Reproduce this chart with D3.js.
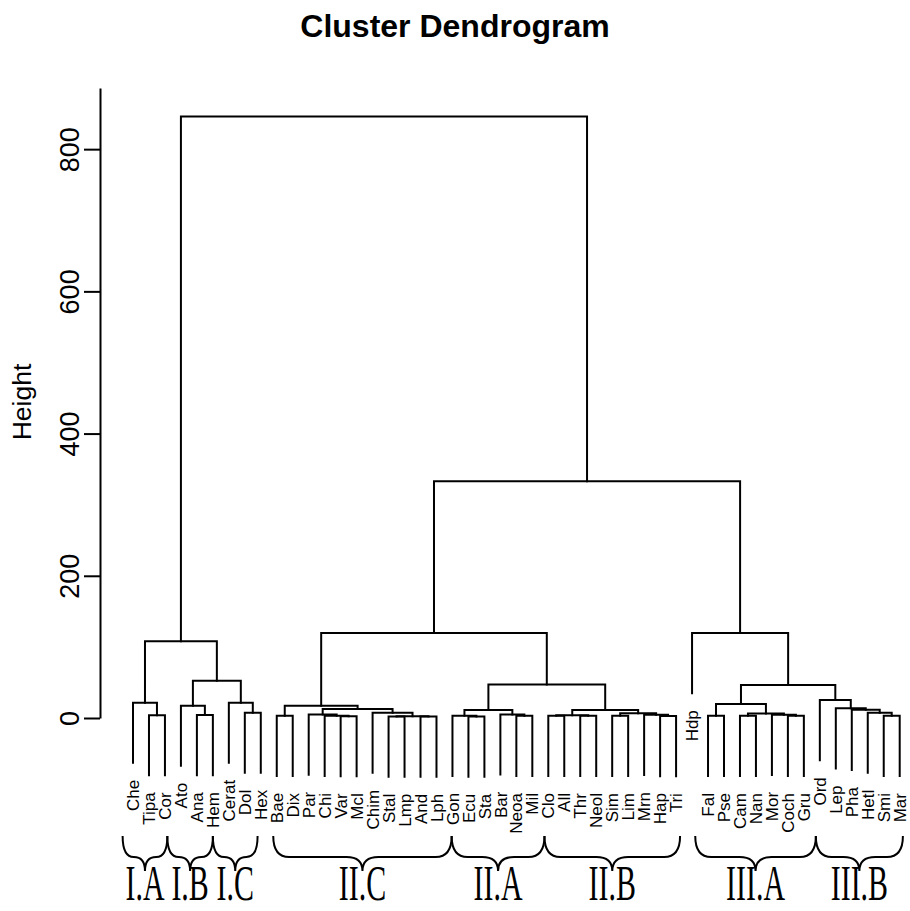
<!DOCTYPE html>
<html><head><meta charset="utf-8">
<script src="https://cdn.jsdelivr.net/npm/d3@7"></script>
<style>body{margin:0;background:#fff}</style>
</head><body>
<svg id="c" width="910" height="911"></svg>
<script>
const leaves = ["Che","Tipa","Cor","Ato","Ana","Hem","Cerat","Dol","Hex","Bae","Dix","Par","Chi","Var","Mcl","Chim","Stal","Lmp","And","Lph","Gon","Ecu","Sta","Bar","Neoa","Mil","Clo","All","Thr","Neol","Sim","Lim","Mrn","Hap","Tri","Hdp","Fal","Pse","Cam","Nan","Mor","Coch","Gru","Ord","Lep","Pha","Hetl","Smi","Mar"];
// merges (R hclust style): strings = leaf labels, numbers = index of an earlier merge
const mergeLeft  = ["Tipa","Che","Ana","Ato","Dol","Cerat",3,1,
                    "Bae","Var","Chi","Par","Stal","And",12,"Chim",11,8,
                    "Ecu","Gon","Neoa","Bar",19,
                    "Clo","Thr",23,"Sim","Hap","Mrn",26,25,22,17,
                    "Fal","Cam","Coch","Mor",34,33,"Smi","Hetl","Pha","Lep","Ord",38,"Hdp",32,7];
const mergeRight = ["Cor",0,"Hem",2,"Hex",4,5,6,
                    "Dix","Mcl",9,10,"Lmp","Lph",13,14,15,16,
                    "Sta",18,"Mil",20,21,
                    "All","Neol",24,"Lim","Tri",27,28,29,30,31,
                    "Pse","Nan","Gru",35,36,37,"Mar",39,40,41,42,43,44,45,46];
const mergeHeight = [4,21.5,4.2,17.3,7.5,21.5,52.4,108,
                     3.2,2.6,3.2,4.8,2.0,2.0,2.3,7.5,12.7,17.3,
                     2.0,3.2,3.0,5.0,11.2,
                     3.0,3.0,4.0,3.0,2.8,4.5,6.6,11.2,47,119.5,
                     3.0,3.0,3.0,4.5,6.5,19.7,3.0,7.5,11.5,13.6,25.3,46.4,119.5,333,846];
const yTicks = [0,200,400,600,800];
const groupNames = ["I.A","I.B","I.C","II.C","II.A","II.B","III.A","III.B"];
const groupStart = [-0.65,2.15,5.0,8.78,19.95,25.76,35.2,42.75];
const groupEnd   = [2.15,5.0,7.8,19.95,25.76,34.25,42.75,48.2];

const svg = d3.select("#c");
const font = "'Liberation Sans', Arial, Helvetica, sans-serif";

const x = d3.scalePoint().domain(leaves).range([133, 899.7]);
const xi = d3.scaleLinear().domain([0, leaves.length-1]).range([133, 899.7]);
const y = d3.scaleLinear().domain([0, 886]).range([718, 88]);
const hang = 0.1 * d3.max(mergeHeight);

// build tree
const leafNodes = new Map(leaves.map(l => [l, {name:l, leaf:true, x:x(l)}]));
const merged = [];
mergeLeft.forEach((a, i) => {
  const get = v => typeof v === "number" ? merged[v] : leafNodes.get(v);
  const L = get(a), R = get(mergeRight[i]);
  const node = {children:[L, R], h: mergeHeight[i], x:(L.x + R.x)/2};
  L.parentH = node.h; R.parentH = node.h;
  merged.push(node);
});
const root = d3.hierarchy(merged[merged.length-1]);

const g = svg.append("g");
const bottomOf = c => c.leaf ? y(c.parentH - hang) : y(c.h);
root.descendants().filter(d => d.children).forEach(d => {
  const n = d.data, [L, R] = n.children;
  g.append("path")
    .attr("d", `M${L.x},${bottomOf(L)}V${y(n.h)}H${R.x}V${bottomOf(R)}`)
    .attr("fill","none").attr("stroke","#000").attr("stroke-width",2)
    .attr("stroke-linecap","square");
});

// leaf labels
root.leaves().forEach(d => {
  const n = d.data;
  g.append("text")
    .attr("transform", `translate(${n.x},${y(n.parentH - hang) + 17}) rotate(-90)`)
    .attr("text-anchor","end").attr("dy","0.36em")
    .attr("font-family", font).attr("font-size", 17)
    .text(n.name);
});

// y axis
const ax = svg.append("g").attr("transform","translate(100,0)")
  .call(d3.axisLeft(y).tickValues(yTicks).tickSize(16).tickSizeOuter(0));
ax.select(".domain").attr("stroke-width",2);
ax.selectAll(".tick line").attr("stroke-width",2);
ax.selectAll(".tick text")
  .attr("x",0).attr("dy",0)
  .attr("transform","translate(-21,0) rotate(-90)")
  .attr("text-anchor","middle")
  .attr("font-family", font).attr("font-size", 27).attr("fill","#000");

svg.append("text").attr("transform","translate(31,402) rotate(-90)")
  .attr("text-anchor","middle").attr("font-family",font).attr("font-size",26.5)
  .text("Height");

svg.append("text").attr("x",455).attr("y",37).attr("text-anchor","middle")
  .attr("font-family",font).attr("font-size",32).attr("font-weight","bold")
  .text("Cluster Dendrogram");

// braces
const y0 = 836, y1 = 857, y2 = 871;
groupNames.forEach((name, i) => {
  const a = xi(groupStart[i]), b = xi(groupEnd[i]), m = (a + b)/2;
  const r = Math.min(16, (b - a)/4);
  const p = `M${a},${y0} Q${a},${y1} ${a+r},${y1} L${m-r},${y1} Q${m},${y1} ${m},${y2} ` +
            `M${b},${y0} Q${b},${y1} ${b-r},${y1} L${m+r},${y1} Q${m},${y1} ${m},${y2}`;
  svg.append("path").attr("d", p).attr("fill","none").attr("stroke","#000").attr("stroke-width",2);
  svg.append("text").attr("transform", `translate(${m},900) scale(0.65,1.1)`)
    .attr("text-anchor","middle")
    .attr("font-family","'Liberation Serif', 'Times New Roman', serif").attr("font-size",46)
    .text(name);
});
</script>
</body></html>
